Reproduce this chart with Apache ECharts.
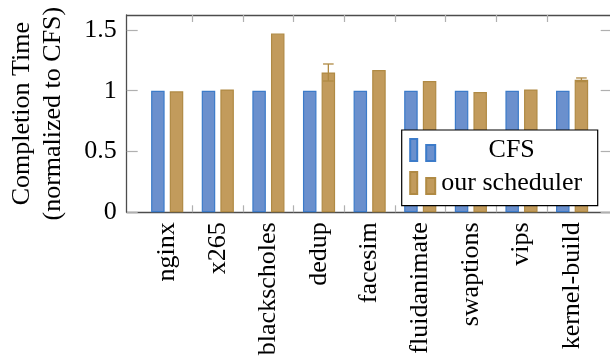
<!DOCTYPE html>
<html>
<head>
<meta charset="utf-8">
<script src="https://cdn.jsdelivr.net/npm/echarts@6/dist/echarts.min.js"></script>
<style>
  html, body { margin: 0; padding: 0; background: #fff; overflow: hidden; }
  /* the plot frame's right edge runs past the 610px page */
  #chart { width: 630px; height: 360px; }
</style>
</head>
<body>
<div id="chart"></div>
<script>
// Benchmarks and completion time normalised to CFS
const categories = ['nginx', 'x265', 'blackscholes', 'dedup', 'facesim', 'fluidanimate', 'swaptions', 'vips', 'kernel-build'];
const cfsValues = [1, 1, 1, 1, 1, 1, 1, 1, 1];
const ourValues = [0.995, 1.01, 1.47, 1.15, 1.17, 1.08, 0.99, 1.01, 1.09];
const ourErrors = [0, 0, 0, 0.07, 0, 0, 0, 0, 0.015];
const yTickValues = [0, 0.5, 1, 1.5];

const FONT = 'Liberation Serif';
const FS = 26;
const AXIS_COLOR = '#4d4d4d';
const TICK_COLOR = '#b0b0b0';
const BLUE = { fill: '#6b90cd', stroke: '#3c7bc9' };
const GOLD = { fill: '#c29b5c', stroke: '#b08a44' };
const BAR_WIDTH = 13.5;
const BAR_GAP = 0.38;
const GOLD_OFFSET = BAR_WIDTH * (1 + BAR_GAP) / 2;

const catIndex = categories.map((_, i) => i);
const boundaries = categories.slice(1).map((_, i) => i + 0.5);

const chart = echarts.init(document.getElementById('chart'), null, { renderer: 'canvas' });

const xCommon = {
  type: 'value',
  min: -0.8,
  max: 8.98,
  splitLine: { show: false },
  axisLine: { show: true, onZero: false, lineStyle: { color: AXIS_COLOR, width: 1.3 } },
  axisTick: { show: true, inside: true, length: 7, customValues: boundaries,
              lineStyle: { color: TICK_COLOR, width: 1.2 } }
};
const yCommon = {
  type: 'value',
  min: 0,
  max: 1.623,
  splitLine: { show: false },
  axisLine: { show: true, onZero: false, lineStyle: { color: AXIS_COLOR, width: 1.3 } },
  axisTick: { show: true, inside: true, length: 11, customValues: yTickValues,
              lineStyle: { color: TICK_COLOR, width: 1.2 } }
};

const legendIcon = 'path://M0,0L7,0L7,22L0,22Z M16,6L25,6L25,22L16,22Z';

chart.setOption({
  animation: false,
  backgroundColor: '#fff',
  grid: { left: 126.7, top: 15, width: 495, height: 197.3, outerBoundsMode: 'none', containLabel: false },
  xAxis: [
    Object.assign({}, xCommon, {
      position: 'bottom',
      axisLabel: {
        customValues: catIndex,
        formatter: v => categories[Math.round(v)],
        rotate: 90, margin: 10,
        fontFamily: FONT, fontSize: FS, color: '#000'
      }
    }),
    Object.assign({}, xCommon, { position: 'top', axisLabel: { show: false } })
  ],
  yAxis: [
    Object.assign({}, yCommon, {
      position: 'left',
      name: 'Completion Time\n(normalized to CFS)',
      nameLocation: 'middle',
      nameGap: 58,
      nameTextStyle: { fontFamily: FONT, fontSize: FS, lineHeight: 31, color: '#000' },
      axisLabel: {
        customValues: yTickValues,
        margin: 10,
        fontFamily: FONT, fontSize: FS, color: '#000'
      }
    }),
    // right edge of the frame lies off the page: only the inner part of its ticks shows
    Object.assign({}, yCommon, {
      position: 'right',
      axisLine: { show: false, onZero: false },
      axisTick: { show: true, inside: true, length: 21, customValues: yTickValues,
                  lineStyle: { color: TICK_COLOR, width: 1.2 } },
      axisLabel: { show: false }
    })
  ],
  legend: {
    data: ['CFS', 'our scheduler'],
    orient: 'vertical',
    left: 401.7,
    top: 130,
    padding: [7, 14.5, 9.7, 7.5],
    itemGap: 7,
    itemWidth: 25,
    itemHeight: 22,
    icon: legendIcon,
    selectedMode: false,
    backgroundColor: '#fff',
    borderColor: '#000',
    borderWidth: 1.2,
    borderRadius: 0,
    formatter: name => '{t|' + name + '}',
    textStyle: {
      fontFamily: FONT, fontSize: FS, color: '#000',
      rich: { t: { width: 143, align: 'center', fontFamily: FONT, fontSize: FS, lineHeight: 26, color: '#000' } }
    }
  },
  series: [
    {
      name: 'CFS',
      type: 'bar',
      xAxisIndex: 0, yAxisIndex: 0,
      barWidth: BAR_WIDTH,
      barGap: (BAR_GAP * 100) + '%',
      itemStyle: { color: BLUE.fill, borderColor: BLUE.stroke, borderWidth: 1.2 },
      data: catIndex.map(i => [i, cfsValues[i]])
    },
    {
      name: 'our scheduler',
      type: 'bar',
      xAxisIndex: 0, yAxisIndex: 0,
      barWidth: BAR_WIDTH,
      barGap: (BAR_GAP * 100) + '%',
      itemStyle: { color: GOLD.fill, borderColor: GOLD.stroke, borderWidth: 1.2 },
      data: catIndex.map(i => [i, ourValues[i]])
    },
    {
      // error bars on top of the scheduler bars
      name: 'our scheduler error',
      type: 'custom',
      xAxisIndex: 0, yAxisIndex: 0,
      z: 5,
      silent: true,
      data: catIndex.filter(i => ourErrors[i] > 0)
                    .map(i => [i, ourValues[i] - ourErrors[i], ourValues[i] + ourErrors[i]]),
      renderItem: (params, api) => {
        const lo = api.coord([api.value(0), api.value(1)]);
        const hi = api.coord([api.value(0), api.value(2)]);
        const x = lo[0] + GOLD_OFFSET;
        const half = 5.3;
        const style = { stroke: GOLD.stroke, lineWidth: 1.3 };
        return {
          type: 'group',
          children: [
            { type: 'line', shape: { x1: x, y1: lo[1], x2: x, y2: hi[1] }, style },
            { type: 'line', shape: { x1: x - half, y1: hi[1], x2: x + half, y2: hi[1] }, style },
            { type: 'line', shape: { x1: x - half, y1: lo[1], x2: x + half, y2: lo[1] }, style }
          ]
        };
      }
    }
  ]
});
</script>
</body>
</html>
